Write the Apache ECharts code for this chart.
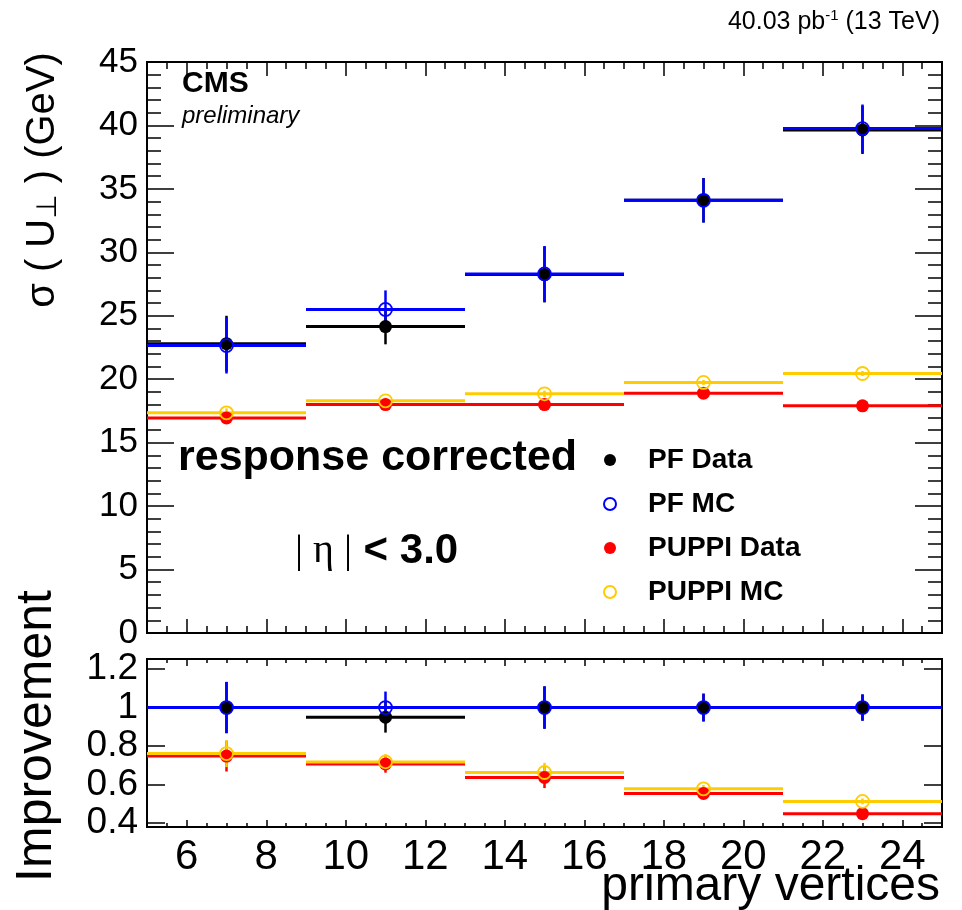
<!DOCTYPE html>
<html><head><meta charset="utf-8">
<script src="https://cdn.jsdelivr.net/npm/echarts@6/dist/echarts.min.js"></script>
<style>html,body{margin:0;padding:0;background:#fff}#c{width:962px;height:910px}</style>
</head><body><div id="c"></div>
<script>
// ---- data ----
const binLow = [5, 9, 13, 17, 21];
const binHigh = [9, 13, 17, 21, 25];
const binCenter = [7, 11, 15, 19, 23];
const legendNames = ['PF Data', 'PF MC', 'PUPPI Data', 'PUPPI MC'];

const pfData = [22.8, 24.15, 28.25, 34.1, 39.65];
const pfDataErr = [2.2, 1.4, 2.2, 1.75, 1.9];
const pfMC = [22.65, 25.5, 28.3, 34.1, 39.75];
const pfMCErr = [2.2, 1.5, 2.2, 1.75, 1.9];
const puppiData = [16.95, 18.0, 18.0, 18.9, 17.9];
const puppiDataErr = [0.35, 0.25, 0.25, 0.25, 0.2];
const puppiMC = [17.35, 18.3, 18.85, 19.75, 20.45];
const puppiMCErr = [0.35, 0.25, 0.25, 0.2, 0.2];

const ratioPFData = [1.0, 0.95, 1.0, 1.0, 1.0];
const ratioPFDataErr = [0.133, 0.08, 0.11, 0.072, 0.068];
const ratioPFMC = [1.0, 1.0, 1.0, 1.0, 1.0];
const ratioPFMCErr = [0.133, 0.083, 0.11, 0.072, 0.068];
const ratioPuppiData = [0.748, 0.707, 0.637, 0.554, 0.449];
const ratioPuppiDataErr = [0.08, 0.045, 0.055, 0.02, 0.015];
const ratioPuppiMC = [0.761, 0.718, 0.663, 0.578, 0.513];
const ratioPuppiMCErr = [0.07, 0.04, 0.05, 0.02, 0.015];

// ---- styling ----
const FONT = 'Liberation Sans';
const BLACK = '#000000', BLUE = '#0000ff', RED = '#ff0000', GOLD = '#ffcc00';

function bars(name, xi, yi, vals, errs, color, z) {
  return {
    type: 'custom', name: name, xAxisIndex: xi, yAxisIndex: yi, z: z, silent: true,
    encode: { x: 0, y: 1 },
    data: binCenter.map((c, i) => [c, vals[i], errs[i], binLow[i], binHigh[i]]),
    renderItem: function (params, api) {
      const x = api.value(0), y = api.value(1), e = api.value(2), lo = api.value(3), hi = api.value(4);
      const pL = api.coord([lo, y]), pR = api.coord([hi, y]);
      const pT = api.coord([x, y + e]), pB = api.coord([x, y - e]);
      return { type: 'group', children: [
        { type: 'line', shape: { x1: pL[0], y1: pL[1], x2: pR[0], y2: pR[1] }, style: { stroke: color, lineWidth: 3 } },
        { type: 'line', shape: { x1: pT[0], y1: pT[1], x2: pB[0], y2: pB[1] }, style: { stroke: color, lineWidth: 2.5 } }
      ] };
    }
  };
}
function markers(name, xi, yi, vals, color, hollow, z) {
  return {
    type: 'scatter', name: name, xAxisIndex: xi, yAxisIndex: yi, z: z, silent: true,
    symbol: 'circle', symbolSize: 13,
    itemStyle: hollow ? { color: 'rgba(0,0,0,0)', borderColor: color, borderWidth: 1.8, opacity: 1 }
                      : { color: color, borderWidth: 0, opacity: 1 },
    emphasis: { disabled: true },
    data: binCenter.map((c, i) => [c, vals[i]])
  };
}

const tickStyle = { color: '#000', width: 1.5 };
function xMajor(grid, pos, len, labels) {
  return { type: 'value', gridIndex: grid, position: pos, min: 5, max: 25, splitNumber: 10,
    axisLine: { show: false }, splitLine: { show: false },
    axisTick: { show: true, inside: true, length: len, lineStyle: tickStyle },
    axisLabel: { show: labels, showMinLabel: false, showMaxLabel: false, margin: 9,
      fontSize: 42, fontFamily: FONT, color: '#000' } };
}
function xMinor(grid, pos, len) {
  return { type: 'value', gridIndex: grid, position: pos, min: 5, max: 25, interval: 0.5,
    axisLine: { show: false }, splitLine: { show: false },
    axisTick: { show: true, inside: true, length: len, lineStyle: tickStyle },
    axisLabel: { show: false } };
}

const option = {
  animation: false,
  backgroundColor: '#fff',
  grid: [
    { left: 147, top: 62, width: 795, height: 571, show: true, borderColor: '#000', borderWidth: 2, backgroundColor: 'transparent' },
    { left: 147, top: 659, width: 795, height: 168, show: true, borderColor: '#000', borderWidth: 2, backgroundColor: 'transparent' }
  ],
  xAxis: [
    xMajor(0, 'bottom', 14, false), xMinor(0, 'bottom', 7),
    xMajor(0, 'top', 14, false), xMinor(0, 'top', 7),
    xMajor(1, 'bottom', 7, true), xMinor(1, 'bottom', 4),
    xMajor(1, 'top', 7, false), xMinor(1, 'top', 4)
  ],
  yAxis: [
    { type: 'value', gridIndex: 0, position: 'left', min: 0, max: 45, interval: 5,
      axisLine: { show: false }, splitLine: { show: false },
      axisTick: { inside: true, length: 27, lineStyle: tickStyle },
      minorTick: { show: true, splitNumber: 5, length: 14, lineStyle: tickStyle },
      axisLabel: { margin: 9, fontSize: 35, fontFamily: FONT, color: '#000' } },
    { type: 'value', gridIndex: 0, position: 'right', min: 0, max: 45, interval: 5,
      axisLine: { show: false }, splitLine: { show: false },
      axisTick: { inside: true, length: 27, lineStyle: tickStyle },
      minorTick: { show: true, splitNumber: 5, length: 14, lineStyle: tickStyle },
      axisLabel: { show: false } },
    { type: 'value', gridIndex: 1, position: 'left', min: 0.38, max: 1.252, splitNumber: 5,
      axisLine: { show: false }, splitLine: { show: false },
      axisTick: { inside: true, length: 18, lineStyle: tickStyle },
      axisLabel: { margin: 9, fontSize: 37, fontFamily: FONT, color: '#000', showMinLabel: false, showMaxLabel: false } },
    { type: 'value', gridIndex: 1, position: 'right', min: 0.38, max: 1.252, splitNumber: 5,
      axisLine: { show: false }, splitLine: { show: false },
      axisTick: { inside: true, length: 18, lineStyle: tickStyle },
      axisLabel: { show: false } }
  ],
  legend: {
    data: legendNames, orient: 'vertical', left: 603, top: 444, padding: 0, itemWidth: 12, itemHeight: 12,
    itemGap: 12, selectedMode: false, icon: 'circle',
    textStyle: { fontSize: 28, fontWeight: 'bold', fontFamily: FONT, color: '#000', lineHeight: 32, padding: [0, 0, 0, 27] }
  },
  series: [
    bars('PF Data bars', 0, 0, pfData, pfDataErr, BLACK, 2),
    bars('PF MC bars', 0, 0, pfMC, pfMCErr, BLUE, 2),
    bars('PUPPI Data bars', 0, 0, puppiData, puppiDataErr, RED, 2),
    bars('PUPPI MC bars', 0, 0, puppiMC, puppiMCErr, GOLD, 2),
    markers('PF Data', 0, 0, pfData, BLACK, false, 3),
    markers('PF MC', 0, 0, pfMC, BLUE, true, 3),
    markers('PUPPI Data', 0, 0, puppiData, RED, false, 3),
    markers('PUPPI MC', 0, 0, puppiMC, GOLD, true, 3),

    bars('PF Data ratio bars', 4, 2, ratioPFData, ratioPFDataErr, BLACK, 2),
    bars('PF MC ratio bars', 4, 2, ratioPFMC, ratioPFMCErr, BLUE, 2),
    bars('PUPPI Data ratio bars', 4, 2, ratioPuppiData, ratioPuppiDataErr, RED, 2),
    bars('PUPPI MC ratio bars', 4, 2, ratioPuppiMC, ratioPuppiMCErr, GOLD, 2),
    markers('PF Data ratio', 4, 2, ratioPFData, BLACK, false, 3),
    markers('PF MC ratio', 4, 2, ratioPFMC, BLUE, true, 3),
    markers('PUPPI Data ratio', 4, 2, ratioPuppiData, RED, false, 3),
    markers('PUPPI MC ratio', 4, 2, ratioPuppiMC, GOLD, true, 3)
  ],
  graphic: [
    { type: 'text', x: 940, y: 22, silent: true,
      style: { text: '{a|40.03 pb}{b|-1}{a| (13 TeV)}', align: 'right', textAlign: 'right', verticalAlign: 'middle', textVerticalAlign: 'middle',
        rich: { a: { fontSize: 25, fontFamily: FONT, fill: '#000', color: '#000' },
                b: { fontSize: 15, fontFamily: FONT, fill: '#000', color: '#000', verticalAlign: 'top', padding: [0, 0, 12, 0] } } } },
    { type: 'text', x: 182, y: 84, silent: true,
      style: { text: 'CMS', font: 'bold 30px "Liberation Sans"', fill: '#000', align: 'left', textAlign: 'left', verticalAlign: 'middle', textVerticalAlign: 'middle' } },
    { type: 'text', x: 182, y: 116, silent: true,
      style: { text: 'preliminary', font: 'italic 24px "Liberation Sans"', fill: '#000', align: 'left', textAlign: 'left', verticalAlign: 'middle', textVerticalAlign: 'middle' } },
    { type: 'text', x: 178, y: 458, silent: true,
      style: { text: 'response corrected', font: 'bold 43px "Liberation Sans"', fill: '#000', align: 'left', textAlign: 'left', verticalAlign: 'middle', textVerticalAlign: 'middle' } },
    { type: 'text', x: 295, y: 551, silent: true,
      style: { text: '{e|| η |}{b| < 3.0}', align: 'left', textAlign: 'left', verticalAlign: 'middle', textVerticalAlign: 'middle',
        rich: { e: { fontSize: 40, fontFamily: 'Liberation Serif', color: '#000' },
                b: { fontSize: 42, fontFamily: FONT, fontWeight: 'bold', color: '#000' } } } },
    { type: 'text', x: 43, y: 180, rotation: Math.PI / 2, silent: true,
      style: { text: '{a|σ ( U}{s|⊥}{a| ) (GeV)}', align: 'center', textAlign: 'center', verticalAlign: 'middle', textVerticalAlign: 'middle',
        rich: { a: { fontSize: 40, fontFamily: FONT, color: '#000' },
                s: { fontSize: 28, fontFamily: 'DejaVu Sans', color: '#000', verticalAlign: 'bottom', padding: [10, 0, 0, 0] } } } },
    { type: 'text', x: 37, y: 736, rotation: Math.PI / 2, silent: true,
      style: { text: 'Improvement', font: '50px "Liberation Sans"', fill: '#000', align: 'center', textAlign: 'center', verticalAlign: 'middle', textVerticalAlign: 'middle' } },
    { type: 'text', x: 940, y: 887, silent: true,
      style: { text: 'primary vertices', font: '48px "Liberation Sans"', fill: '#000', align: 'right', textAlign: 'right', verticalAlign: 'middle', textVerticalAlign: 'middle' } }
  ]
};
const chart = echarts.init(document.getElementById('c'));
chart.setOption(option);
</script></body></html>
